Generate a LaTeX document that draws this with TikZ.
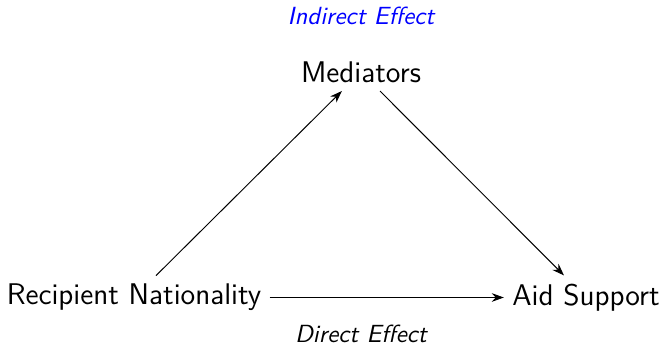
\documentclass[tikz,border=0pt]{standalone}
\usetikzlibrary{arrows.meta}
\begin{document}
\begin{tikzpicture}[x=0.415pt,y=-0.415pt,
  every node/.style={font=\sffamily},
  var/.style={font=\sffamily\fontsize{12.4}{15}\selectfont},
  lab/.style={font=\sffamily\itshape\fontsize{10.3}{12}\selectfont, anchor=base},
  conn/.style={-{Stealth[length=5pt,width=3.6pt]}, line width=0.4pt}]
\useasboundingbox (0,0) rectangle (663,346);
\node[var] (med) at (361,72) {Mediators};
\node[var] (rn) at (134,297.5) {Recipient Nationality};
\node[var] (aid) at (586,297.5) {Aid Support};
\node[lab, text=blue] (ind) at (361,25) {Indirect Effect};
\node[lab] (dir) at (361,342) {Direct Effect};
\draw[conn] (rn) -- (med);
\draw[conn] (med) -- (aid);
\draw[conn] (rn) -- (aid);
\end{tikzpicture}
\end{document}
